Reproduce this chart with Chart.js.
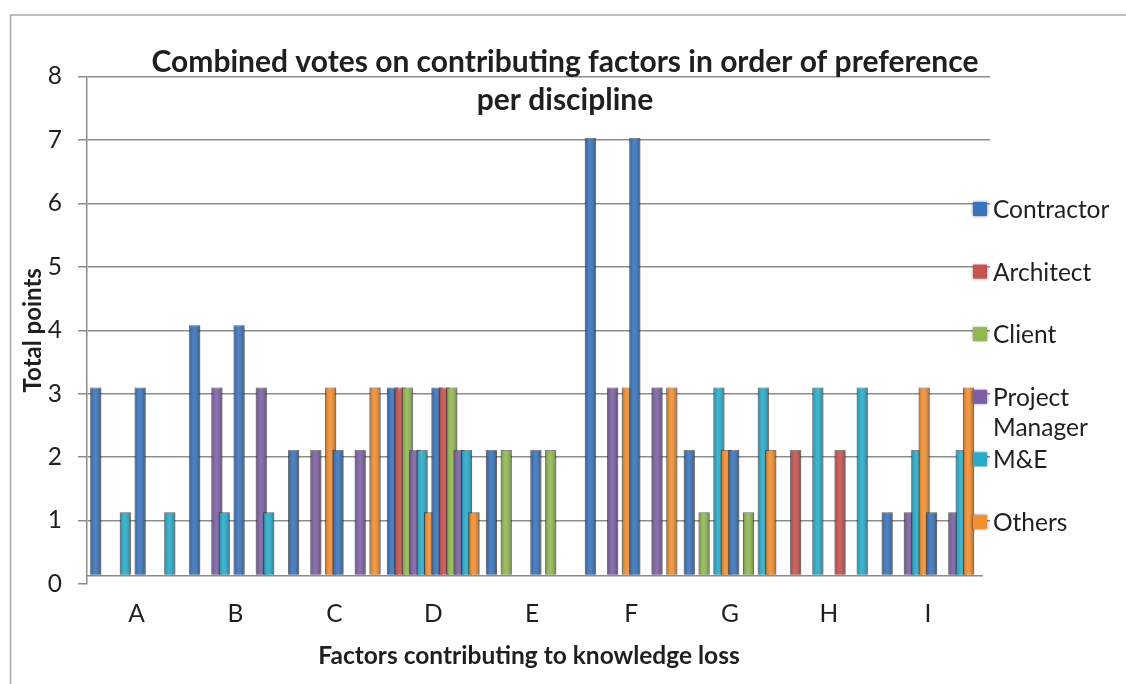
<!DOCTYPE html>
<html>
<head>
<meta charset="utf-8">
<script src="https://cdn.jsdelivr.net/npm/chart.js@4.4.0/dist/chart.umd.min.js"></script>
<style>
  html, body { margin: 0; padding: 0; background: #ffffff; }
  #wrap { position: relative; width: 1126px; height: 684px; }
</style>
</head>
<body>
<div id="wrap"><canvas id="chart" width="1126" height="684"></canvas></div>
<script>
// Factors (x categories) and y tick values
const categories = ['A', 'B', 'C', 'D', 'E', 'F', 'G', 'H', 'I'];
const yTicks = [0, 1, 2, 3, 4, 5, 6, 7, 8];

// Disciplines and their points per factor (null = no votes)
const disciplines = ['Contractor', 'Architect', 'Client', 'Project Manager', 'M&E', 'Others'];
const contractor     = [3, 4, 2, 3, 2, 7, 2, null, 1];
const architect      = [null, null, null, 3, null, null, null, 2, null];
const client         = [null, null, null, 3, 2, null, 1, null, null];
const projectManager = [null, 3, 2, 2, null, 3, null, null, 1];
const mAndE          = [1, 1, null, 2, null, null, 3, 3, 2];
const others         = [null, null, 3, 1, null, 3, 2, null, 3];

// The sheet plots every discipline column twice for each factor
const seriesValues = [contractor, architect, client, projectManager, mAndE, others];
const plottedSets = 2;

const disciplineColors = ['#3a74bc', '#c65350', '#92b853', '#7d60a4', '#29acca', '#f28f30'];

const FONT = "Lato, 'Open Sans', sans-serif";
const TEXT = '#1f1f1f';
const GRID = '#8c8c8c';

const datasets = [];
for (let s = 0; s < plottedSets; s++) {
  seriesValues.forEach((vals, k) => {
    datasets.push({
      label: disciplines[k],
      data: vals.map((v, i) => ({ x: i, y: v })),
      backgroundColor: disciplineColors[k],
      borderColor: 'rgba(60,60,60,0.5)',
      borderWidth: 1,
      xAxisID: 'x',
      yAxisID: 'yBars'
    });
  });
}

// Outer frame of the chart object
const framePlugin = {
  id: 'frame',
  beforeDraw(chart) {
    const ctx = chart.ctx;
    ctx.save();
    ctx.fillStyle = '#ffffff';
    ctx.fillRect(0, 0, chart.width, chart.height);
    ctx.strokeStyle = '#a8a8a8';
    ctx.lineWidth = 1.5;
    ctx.beginPath();
    ctx.moveTo(10.5, chart.height + 2);
    ctx.lineTo(10.5, 15);
    ctx.lineTo(chart.width + 2, 15);
    ctx.stroke();
    ctx.restore();
  }
};

// Shade a bar's face darker at the sides, lighter in the middle
function shadeBar(ctx, el) {
  const p = el.getProps(['x', 'y', 'base', 'width'], true);
  if (p.y == null || isNaN(p.y)) return;
  const left = p.x - p.width / 2, top = Math.min(p.y, p.base);
  const h = Math.abs(p.base - p.y);
  const g = ctx.createLinearGradient(left, 0, left + p.width, 0);
  g.addColorStop(0, 'rgba(0,0,0,0.22)');
  g.addColorStop(0.45, 'rgba(255,255,255,0.10)');
  g.addColorStop(1, 'rgba(0,0,0,0.26)');
  ctx.fillStyle = g;
  ctx.fillRect(left, top, p.width, h);
}

// Bars are painted in series order so later series sit in front; floor line first
const barsPlugin = {
  id: 'barsInOrder',
  beforeDatasetsDraw(chart) {
    const ctx = chart.ctx;
    const area = chart.chartArea;
    const yb = chart.scales.yBars;
    const floorY = yb.getPixelForValue(0) + 1;
    ctx.save();
    ctx.strokeStyle = GRID;
    ctx.lineWidth = 1.5;
    ctx.beginPath();
    ctx.moveTo(area.left, floorY);
    ctx.lineTo(area.right - 7, floorY);
    ctx.stroke();
    ctx.restore();

    ctx.save();
    ctx.beginPath();
    ctx.rect(area.left, area.top - 2, area.width, area.height + 4);
    ctx.clip();
    for (let i = 0; i < chart.data.datasets.length; i++) {
      if (!chart.isDatasetVisible(i)) continue;
      const meta = chart.getDatasetMeta(i);
      ctx.save();
      ctx.shadowColor = 'rgba(0,0,0,0.5)';
      ctx.shadowBlur = 3;
      meta.controller.draw();
      ctx.restore();
      meta.data.forEach(el => shadeBar(ctx, el));
    }
    ctx.restore();
    return false;
  }
};

// Chart title, x-axis caption and the discipline key on the right
const textPlugin = {
  id: 'titleAndKey',
  afterDraw(chart) {
    const ctx = chart.ctx;
    ctx.save();
    ctx.fillStyle = TEXT;
    ctx.textAlign = 'center';
    ctx.textBaseline = 'middle';
    ctx.font = 'bold 30px ' + FONT;
    ctx.fillText('Combined votes on contributing factors in order of preference', 565, 62);
    ctx.fillText('per discipline', 565, 100);

    ctx.font = 'bold 24.5px ' + FONT;
    ctx.fillText('Factors contributing to knowledge loss', 529, 656);

    ctx.font = '24.5px ' + FONT;
    ctx.textAlign = 'left';
    const keyX = 973, textX = 993, startY = 209, step = 62.6, lineGap = 30, maxW = 128;
    for (let k = 0; k < disciplines.length; k++) {
      const ds = chart.data.datasets[k];
      const cy = startY + k * step;
      ctx.save();
      ctx.shadowColor = 'rgba(0,0,0,0.5)';
      ctx.shadowBlur = 3;
      ctx.fillStyle = ds.backgroundColor;
      ctx.fillRect(keyX, cy - 7, 14, 14);
      ctx.restore();
      const words = ds.label.split(' ');
      const lines = [];
      let line = '';
      words.forEach(w => {
        const t = line ? line + ' ' + w : w;
        if (line && ctx.measureText(t).width > maxW) { lines.push(line); line = w; } else { line = t; }
      });
      lines.push(line);
      lines.forEach((ln, j) => ctx.fillText(ln, textX, cy + 1 + j * lineGap));
    }
    ctx.restore();
  }
};

new Chart(document.getElementById('chart'), {
  type: 'bar',
  data: { datasets },
  options: {
    responsive: false,
    animation: false,
    devicePixelRatio: 1,
    layout: { padding: { left: 0, right: 136, top: 76.5, bottom: 0 } },
    datasets: { bar: { categoryPercentage: 0.898, barPercentage: 1.5 } },
    plugins: {
      legend: { display: false },
      title: { display: false },
      tooltip: { enabled: false }
    },
    scales: {
      x: {
        type: 'linear',
        offset: false,
        min: -0.5,
        max: 8.628,
        afterBuildTicks(scale) { scale.ticks = categories.map((c, i) => ({ value: i })); },
        afterFit(scale) { scale.height = 100; },
        grid: { display: false, drawTicks: false },
        border: { display: false },
        ticks: {
          autoSkip: false,
          maxRotation: 0,
          padding: 15,
          color: TEXT,
          font: { family: FONT, size: 24.5 },
          callback: (v) => categories[v] ?? ''
        }
      },
      y: {
        position: 'left',
        min: 0,
        max: 8,
        afterBuildTicks(scale) { scale.ticks = yTicks.map(v => ({ value: v })); },
        afterFit(scale) { scale.width = 87; },
        grid: {
          color: (c) => (c.tick && c.tick.value === 0 ? 'rgba(0,0,0,0)' : GRID),
          tickColor: GRID,
          lineWidth: 1.5,
          tickLength: 9
        },
        border: { display: true, color: GRID, width: 1.5 },
        ticks: {
          padding: 16,
          color: TEXT,
          font: { family: FONT, size: 24.5 }
        },
        title: {
          display: true,
          text: 'Total points',
          color: TEXT,
          font: { family: FONT, size: 24, weight: 'bold' },
          padding: { top: 18.5, bottom: 0 }
        }
      },
      yBars: {
        display: false,
        position: 'left',
        min: -0.149,
        max: 7.986
      }
    }
  },
  plugins: [framePlugin, barsPlugin, textPlugin]
});
</script>
</body>
</html>
